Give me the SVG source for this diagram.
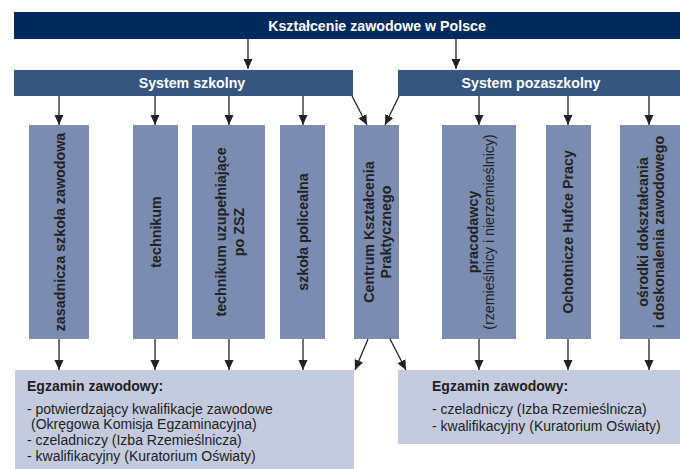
<svg xmlns="http://www.w3.org/2000/svg" width="680" height="469" viewBox="0 0 680 469">
<style>
.top{fill:#002a5c}
.sys{fill:#36567f}
.col{fill:#7a8cb0}
.exam{fill:#c5cbdf}
.tw{font-family:"Liberation Sans",Arial,sans-serif;font-weight:bold;font-size:14.2px;fill:#fff;text-anchor:middle}
.tv{font-family:"Liberation Sans",Arial,sans-serif;font-weight:bold;font-size:14.3px;fill:#222;text-anchor:middle}
.tr{font-family:"Liberation Sans",Arial,sans-serif;font-size:14.2px;fill:#222;text-anchor:middle}
.eb{font-family:"Liberation Sans",Arial,sans-serif;font-weight:bold;font-size:14px;fill:#222}
.el{font-family:"Liberation Sans",Arial,sans-serif;font-size:14px;fill:#222}
.conn line{stroke:#222;stroke-width:1.3}
</style>
<defs>
<marker id="ah" markerUnits="userSpaceOnUse" markerWidth="10" markerHeight="10" viewBox="0 0 10 10" refX="10" refY="5" orient="auto">
<path d="M0,0.5 L10,5 L0,9.5 Z" fill="#222"/>
</marker>
</defs>
<g id="root">
<rect class="top" x="14" y="12" width="666" height="27"/>
<text class="tw" x="377" y="30.5">Kształcenie zawodowe w Polsce</text>
</g>
<g id="szkolny">
<rect class="sys" x="14" y="70" width="339" height="26"/>
<text class="tw" x="192" y="88">System szkolny</text>
</g>
<g id="pozaszkolny">
<rect class="sys" x="398" y="70" width="282" height="26"/>
<text class="tw" x="531" y="88">System pozaszkolny</text>
</g>
<g id="zasadnicza">
<rect class="col" x="29" y="125" width="60" height="214"/>
<text class="tv" transform="translate(65,232) rotate(-90)">zasadnicza szkoła zawodowa</text>
</g>
<g id="technikum">
<rect class="col" x="133" y="125" width="45" height="214"/>
<text class="tv" transform="translate(161,232) rotate(-90)">technikum</text>
</g>
<g id="technikum-uzup">
<rect class="col" x="192" y="125" width="73" height="214"/>
<text class="tv" transform="translate(226,232) rotate(-90)">technikum uzupełniające</text>
<text class="tv" transform="translate(244,232) rotate(-90)">po ZSZ</text>
</g>
<g id="policealna">
<rect class="col" x="280" y="125" width="45" height="214"/>
<text class="tv" transform="translate(308,232) rotate(-90)">szkoła policealna</text>
</g>
<g id="centrum">
<rect class="col" x="354" y="125" width="45" height="214"/>
<text class="tv" transform="translate(374,232) rotate(-90)">Centrum Kształcenia</text>
<text class="tv" transform="translate(391,232) rotate(-90)">Praktycznego</text>
</g>
<g id="pracodawcy">
<rect class="col" x="442" y="125" width="74" height="214"/>
<text class="tv" transform="translate(478,232) rotate(-90)">pracodawcy</text>
<text class="tr" transform="translate(494,232) rotate(-90)">(rzemieślnicy i nierzemieślnicy)</text>
</g>
<g id="ochotnicze">
<rect class="col" x="546" y="125" width="45" height="214"/>
<text class="tv" transform="translate(573,232) rotate(-90)">Ochotnicze Hufce Pracy</text>
</g>
<g id="osrodki">
<rect class="col" x="620" y="125" width="60" height="214"/>
<text class="tv" transform="translate(648,232) rotate(-90)">ośrodki dokształcania</text>
<text class="tv" transform="translate(664,232) rotate(-90)">i doskonalenia zawodowego</text>
</g>
<g id="egzamin-szkolny">
<rect class="exam" x="15" y="370" width="339" height="99"/>
<text class="eb" x="27" y="391">Egzamin zawodowy:</text>
<text class="el" x="27" y="414">- potwierdzający kwalifikacje zawodowe</text>
<text class="el" x="31" y="429">(Okręgowa Komisja Egzaminacyjna)</text>
<text class="el" x="27" y="445">- czeladniczy (Izba Rzemieślnicza)</text>
<text class="el" x="27" y="461">- kwalifikacyjny (Kuratorium Oświaty)</text>
</g>
<g id="egzamin-pozaszkolny">
<rect class="exam" x="398" y="370" width="282" height="74"/>
<text class="eb" x="432" y="391">Egzamin zawodowy:</text>
<text class="el" x="432" y="414">- czeladniczy (Izba Rzemieślnicza)</text>
<text class="el" x="432" y="431">- kwalifikacyjny (Kuratorium Oświaty)</text>
</g>
<g class="conn" id="connectors">
<line x1="248" y1="39" x2="248" y2="69" marker-end="url(#ah)"/>
<line x1="456" y1="39" x2="456" y2="69" marker-end="url(#ah)"/>
<line x1="59" y1="96" x2="59" y2="125" marker-end="url(#ah)"/>
<line x1="155" y1="96" x2="155" y2="125" marker-end="url(#ah)"/>
<line x1="229" y1="96" x2="229" y2="125" marker-end="url(#ah)"/>
<line x1="303" y1="96" x2="303" y2="125" marker-end="url(#ah)"/>
<line x1="352" y1="96" x2="367" y2="125" marker-end="url(#ah)"/>
<line x1="399" y1="96" x2="385" y2="125" marker-end="url(#ah)"/>
<line x1="479" y1="96" x2="479" y2="125" marker-end="url(#ah)"/>
<line x1="568" y1="96" x2="568" y2="125" marker-end="url(#ah)"/>
<line x1="649" y1="96" x2="649" y2="125" marker-end="url(#ah)"/>
<line x1="59" y1="339" x2="59" y2="370" marker-end="url(#ah)"/>
<line x1="155" y1="339" x2="155" y2="370" marker-end="url(#ah)"/>
<line x1="229" y1="339" x2="229" y2="370" marker-end="url(#ah)"/>
<line x1="303" y1="339" x2="303" y2="370" marker-end="url(#ah)"/>
<line x1="368" y1="339" x2="355" y2="370" marker-end="url(#ah)"/>
<line x1="390" y1="339" x2="406" y2="370" marker-end="url(#ah)"/>
<line x1="479" y1="339" x2="479" y2="370" marker-end="url(#ah)"/>
<line x1="568" y1="339" x2="568" y2="370" marker-end="url(#ah)"/>
<line x1="649" y1="339" x2="649" y2="370" marker-end="url(#ah)"/>
</g>
</svg>
